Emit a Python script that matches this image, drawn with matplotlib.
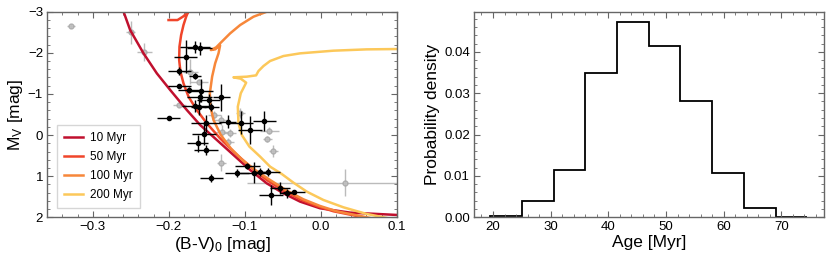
import numpy as np
import matplotlib
matplotlib.use("Agg")
import matplotlib.pyplot as plt
from matplotlib.ticker import MultipleLocator

plt.rcParams['font.family'] = ['Liberation Sans', 'DejaVu Sans']
plt.rcParams['mathtext.fontset'] = 'custom'
plt.rcParams['mathtext.rm'] = 'Liberation Sans'
plt.rcParams['mathtext.it'] = 'Liberation Sans'

# --- isochrones: (B-V)0, MV
iso_labels = ['10 Myr', '50 Myr', '100 Myr', '200 Myr']
iso_colors = ['#c0102e', '#f0452a', '#f7873a', '#fcc85a']

iso10_bv = [-0.2596, -0.2509, -0.2333, -0.2158, -0.1982, -0.1763, -0.1588, -0.1368, -0.1149,
            -0.0930, -0.0711, -0.0491, -0.0272, -0.0009, 0.0386, 0.1000]
iso10_mv = [-3.00, -2.554, -1.987, -1.501, -1.096, -0.609, -0.245, 0.120, 0.485,
            0.849, 1.174, 1.417, 1.619, 1.781, 1.886, 1.943]

iso50_bv = [-0.2004, -0.1886, -0.1816, -0.1750, -0.1772, -0.1807, -0.1838, -0.1860, -0.1864,
            -0.1847, -0.1807, -0.1741, -0.1632, -0.1500, -0.1325, -0.1149, -0.0930, -0.0711,
            -0.0491, -0.0272, -0.0053, 0.0167, 0.0561, 0.0737]
iso50_mv = [-2.797, -2.797, -2.878, -2.976, -2.878, -2.676, -2.433, -2.149, -1.825,
            -1.541, -1.258, -0.933, -0.609, -0.285, 0.080, 0.404, 0.768, 1.093,
            1.352, 1.563, 1.725, 1.854, 2.000, 2.065]

iso100_bv = [-0.0711, -0.0886, -0.1061, -0.1193, -0.1303, -0.1377, -0.1447, -0.1390, -0.1325,
             -0.1346, -0.1390, -0.1430, -0.1460, -0.1452, -0.1412, -0.1316, -0.1184, -0.1039,
             -0.0864, -0.0667, -0.0447, -0.0228, -0.0009, 0.0211, 0.0605, 0.0737]
iso100_mv = [-3.00, -2.878, -2.676, -2.473, -2.271, -2.133, -2.068, -2.084, -2.181,
             -1.987, -1.744, -1.420, -1.015, -0.690, -0.366, -0.002, 0.323, 0.590,
             0.849, 1.093, 1.352, 1.563, 1.725, 1.854, 2.000, 2.049]

iso200_bv = [0.1000, 0.0605, 0.0167, -0.0272, -0.0491, -0.0667, -0.0754, -0.0820, -0.0851,
             -0.0974, -0.1149, -0.1053, -0.0982, -0.1053, -0.1092, -0.1083, -0.1039, -0.0939,
             -0.0798, -0.0667, -0.0513, -0.0360, -0.0184, 0.0035, 0.0298, 0.0605, 0.0825, 0.0956]
iso200_mv = [-2.092, -2.084, -2.052, -1.987, -1.922, -1.801, -1.679, -1.557, -1.452,
             -1.420, -1.404, -1.371, -1.274, -1.015, -0.690, -0.285, 0.000, 0.282,
             0.525, 0.768, 0.947, 1.157, 1.376, 1.579, 1.757, 1.919, 2.000, 2.049]

# --- members (black)
mem_bv = [-0.1653, -0.1596, -0.1776, -0.1860, -0.1653, -0.1860, -0.1728, -0.1575, -0.1596,
          -0.1307, -0.1474, -0.1653, -0.1605, -0.1439, -0.2004, -0.1513, -0.1224, -0.1048,
          -0.0741, -0.0930, -0.1535, -0.1618, -0.1509, -0.1439, -0.1105, -0.0965, -0.0877,
          -0.0798, -0.0689, -0.0535, -0.0439, -0.0351, -0.0658]
mem_mv = [-2.149, -2.109, -1.906, -1.566, -1.436, -1.193, -1.096, -1.079, -0.933,
          -0.917, -0.852, -0.707, -0.690, -0.674, -0.415, -0.285, -0.326, -0.301,
          -0.342, -0.123, -0.026, 0.201, 0.363, 1.052, 0.914, 0.752, 0.914,
          0.890, 0.890, 1.295, 1.420, 1.376, 1.457]
mem_bv_err = [0.020, 0.017, 0.015, 0.015, 0.008, 0.015, 0.015, 0.015, 0.017,
              0.011, 0.015, 0.018, 0.010, 0.010, 0.015, 0.020, 0.011, 0.015,
              0.015, 0.016, 0.016, 0.014, 0.016, 0.015, 0.016, 0.017, 0.018,
              0.010, 0.015, 0.013, 0.010, 0.015, 0.016]
mem_mv_err = [0.15, 0.15, 0.40, 0.10, 0.08, 0.05, 0.08, 0.28, 0.12,
              0.32, 0.15, 0.15, 0.20, 0.10, 0.05, 0.20, 0.15, 0.28,
              0.25, 0.35, 0.28, 0.20, 0.12, 0.10, 0.10, 0.07, 0.25,
              0.10, 0.10, 0.15, 0.10, 0.05, 0.25]

# --- other stars (grey)
oth_bv = [-0.3285, -0.2500, -0.2325, -0.1860, -0.1719, -0.1399, -0.1311, -0.1303, -0.1193,
          -0.1224, -0.1311, -0.1061, -0.0675, -0.0702, -0.0623, 0.0325, -0.1600]
oth_mv = [-2.652, -2.498, -2.011, -0.731, -1.541, -0.488, -0.366, -0.083, -0.042,
          0.161, 0.671, -0.544, -0.107, 0.096, 0.388, 1.157, -1.300]
oth_bv_err = [0.005, 0.006, 0.010, 0.008, 0.010, 0.008, 0.010, 0.008, 0.008,
              0.008, 0.006, 0.006, 0.012, 0.006, 0.006, 0.130, 0.012]
oth_mv_err = [0.05, 0.28, 0.22, 0.05, 0.30, 0.10, 0.12, 0.15, 0.10,
              0.10, 0.20, 0.12, 0.08, 0.08, 0.15, 0.32, 0.06]

# --- age posterior histogram
age_edges = [19.5, 25.0, 30.5, 36.0, 41.5, 47.0, 52.5, 58.0, 63.5, 69.0, 74.5]
age_density = [0.0003, 0.0040, 0.0115, 0.0350, 0.0472, 0.0414, 0.0280, 0.0107, 0.0022, 0.0001]

frame_col = '#666666'

fig = plt.figure(figsize=(8.31, 2.63), dpi=100)
ax1 = fig.add_axes([0.0569, 0.1738, 0.4205, 0.7817])
ax2 = fig.add_axes([0.5704, 0.1738, 0.4212, 0.7817])

isos = [(iso10_bv, iso10_mv), (iso50_bv, iso50_mv), (iso100_bv, iso100_mv), (iso200_bv, iso200_mv)]
for (bv, mv), lab, col in zip(isos, iso_labels, iso_colors):
    ax1.plot(bv, mv, color=col, lw=1.8, label=lab, zorder=2)

ax1.errorbar(oth_bv, oth_mv, xerr=oth_bv_err, yerr=oth_mv_err, fmt='o', ms=3.5,
             color='#b0b0b0', mfc='#c0c0c0', mec='#a8a8a8', elinewidth=1.0, capsize=0,
             alpha=0.85, zorder=1)
ax1.errorbar(mem_bv, mem_mv, xerr=mem_bv_err, yerr=mem_mv_err, fmt='o', ms=3,
             color='black', elinewidth=1.0, capsize=0, zorder=3)

ax1.set_xlim(-0.36, 0.1)
ax1.set_ylim(2, -3)
ax1.xaxis.set_major_locator(MultipleLocator(0.1))
ax1.xaxis.set_minor_locator(MultipleLocator(0.02))
ax1.yaxis.set_major_locator(MultipleLocator(1))
ax1.yaxis.set_minor_locator(MultipleLocator(0.2))
ax1.set_xlabel('(B-V)$_0$ [mag]', fontsize=12.5, labelpad=1)
ax1.set_ylabel('M$_\\mathrm{V}$ [mag]', fontsize=12.5, labelpad=2)
leg = ax1.legend(loc='lower left', fontsize=8.5, frameon=True, fancybox=False,
                 borderpad=0.6, labelspacing=0.6, handlelength=1.6, handletextpad=0.6,
                 bbox_to_anchor=(0.01, 0.015))
leg.get_frame().set_edgecolor('#cccccc')
leg.get_frame().set_linewidth(1.0)

ax2.stairs(age_density, age_edges, color='black', lw=1.3)
ax2.set_xlim(16.7, 77.4)
ax2.set_ylim(0, 0.0497)
ax2.xaxis.set_major_locator(MultipleLocator(10))
ax2.xaxis.set_minor_locator(MultipleLocator(2))
ax2.yaxis.set_major_locator(MultipleLocator(0.01))
ax2.yaxis.set_minor_locator(MultipleLocator(0.002))
ax2.set_xlabel('Age [Myr]', fontsize=12.5, labelpad=1)
ax2.set_ylabel('Probability density', fontsize=12.5, labelpad=3)

for ax in (ax1, ax2):
    ax.tick_params(which='both', direction='in', top=True, right=True,
                   color=frame_col, labelsize=9.5, pad=3)
    ax.tick_params(which='major', length=4, width=0.8)
    ax.tick_params(which='minor', length=2, width=0.6)
    for sp in ax.spines.values():
        sp.set_color(frame_col)
        sp.set_linewidth(1.0)

ax1.set_xticks([-0.3, -0.2, -0.1, 0.0, 0.1])
ax1.set_xticklabels(['\u22120.3', '\u22120.2', '\u22120.1', '0.0', '0.1'])

fig.savefig('out.png', dpi=100)
